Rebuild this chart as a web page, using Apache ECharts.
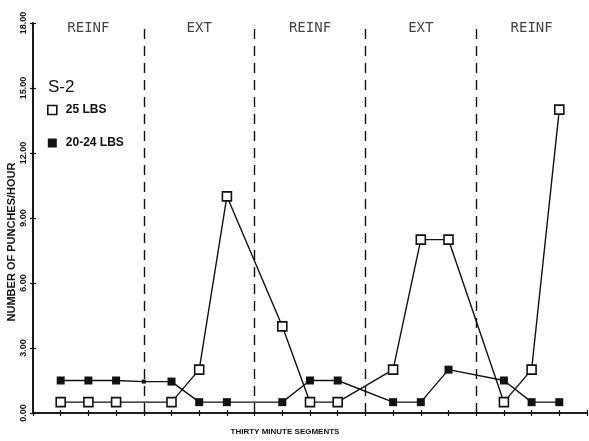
<!DOCTYPE html>
<html><head><meta charset="utf-8">
<script src="https://cdn.jsdelivr.net/npm/echarts@6/dist/echarts.min.js"></script>
<style>html,body{margin:0;padding:0;background:#fff}#c{width:589px;height:441px}</style>
</head><body><div id="c"></div>
<script>
// ---- data ----
const phaseNames = ['REINF', 'EXT', 'REINF', 'EXT', 'REINF'];
const phaseCenters = [2, 6, 10, 14, 18];
const phaseBoundaries = [4, 8, 12, 16];
const yTickValues = [0, 3, 6, 9, 12, 15, 18];
const seriesNames = ['25 LBS', '20-24 LBS'];
const lbs25Segments = [1, 2, 3, 5, 6, 7, 9, 10, 11, 13, 14, 15, 17, 18, 19];
const lbs25Values   = [0.5, 0.5, 0.5, 0.5, 2, 10, 4, 0.5, 0.5, 2, 8, 8, 0.5, 2, 14];
const lbs2024Segments = [1, 2, 3, 4, 5, 6, 7, 9, 10, 11, 13, 14, 15, 17, 18, 19];
const lbs2024Values   = [1.5, 1.5, 1.5, 1.45, 1.45, 0.5, 0.5, 0.5, 1.5, 1.5, 0.5, 0.5, 2, 1.5, 0.5, 0.5];
const xAxisTitle = 'THIRTY MINUTE SEGMENTS';
const yAxisTitle = 'NUMBER OF PUNCHES/HOUR';
const subjectLabel = 'S-2';

const INK = '#111';
const chart = echarts.init(document.getElementById('c'), null, {renderer: 'canvas'});
const gridPos = {left: 33, right: 2, top: 23, bottom: 28, containLabel: false, outerBoundsMode: 'none'};

function xAx(gridIndex, inside, extra) {
  return Object.assign({
    type: 'value', gridIndex, min: 0, max: 20, interval: 1,
    axisLine: {show: true, lineStyle: {color: INK, width: 1.6}},
    axisTick: {show: true, inside, length: 3, lineStyle: {color: INK, width: 1.2}},
    axisLabel: {show: false}, splitLine: {show: false}
  }, extra || {});
}
function yAx(gridIndex, inside, extra) {
  return Object.assign({
    type: 'value', gridIndex, min: 0, max: 18, interval: 3,
    axisLine: {show: true, lineStyle: {color: INK, width: 1.6}},
    axisTick: {show: true, inside, length: 3, lineStyle: {color: INK, width: 1.2}},
    axisLabel: {show: false}, splitLine: {show: false}
  }, extra || {});
}

const hollowSquare = {color: '#fff', borderColor: INK, borderWidth: 1.6};

chart.setOption({
  backgroundColor: '#fff',
  animation: false,
  title: {
    text: subjectLabel, left: 43, top: 74,
    textStyle: {fontFamily: 'Liberation Sans', fontSize: 17, fontWeight: 'normal', color: INK}
  },
  legend: {
    orient: 'vertical', left: 42, top: 99, itemWidth: 9, itemHeight: 9, itemGap: 21,
    textStyle: {fontFamily: 'Liberation Sans', fontSize: 12, fontWeight: 'bold', color: INK, padding: [0, 0, 0, 4]},
    data: [
      {name: seriesNames[0], icon: 'rect', itemStyle: hollowSquare},
      {name: seriesNames[1], icon: 'rect', itemStyle: {color: INK}}
    ]
  },
  grid: [Object.assign({}, gridPos), Object.assign({}, gridPos)],
  xAxis: [
    xAx(0, false, {
      name: xAxisTitle, nameLocation: 'middle', nameGap: 15, nameMoveOverlap: false,
      nameTextStyle: {fontFamily: 'Liberation Sans', fontSize: 8, fontWeight: 'bold', color: INK, padding: [0, 50, 0, 0]}
    }),
    xAx(1, true)
  ],
  yAxis: [
    yAx(0, false, {
      axisLabel: {show: true, rotate: 90, margin: 5, fontFamily: 'Liberation Sans', fontSize: 9, fontWeight: 'bold', color: INK,
        formatter: v => v.toFixed(2)},
      name: yAxisTitle, nameLocation: 'middle', nameGap: 16, nameRotate: 90, nameMoveOverlap: false,
      nameTextStyle: {fontFamily: 'Liberation Sans', fontSize: 11, fontWeight: 'bold', color: INK, padding: [0, 48, 0, 0]}
    }),
    yAx(1, true)
  ],
  series: [
    {
      name: seriesNames[0], type: 'line', xAxisIndex: 0, yAxisIndex: 0,
      data: lbs25Segments.map((s, i) => [s, lbs25Values[i]]),
      symbol: 'rect', symbolSize: 9,
      itemStyle: hollowSquare,
      lineStyle: {color: INK, width: 1.4}, z: 3,
      markLine: {
        silent: true, symbol: 'none',
        lineStyle: {color: INK, width: 1.4, type: [10, 7]},
        label: {show: false},
        data: phaseBoundaries.map(b => [{coord: [b, 0]}, {coord: [b, 18]}])
      }
    },
    {
      name: seriesNames[1], type: 'line', xAxisIndex: 0, yAxisIndex: 0,
      data: lbs2024Segments.map((s, i) => s === 4 ? {value: [s, lbs2024Values[i]], symbolSize: 4} : [s, lbs2024Values[i]]),
      symbol: 'rect', symbolSize: 8,
      itemStyle: {color: INK},
      lineStyle: {color: INK, width: 1.4}, z: 4
    },
    {
      name: 'phases', type: 'scatter', xAxisIndex: 0, yAxisIndex: 0,
      symbolSize: 0, silent: true,
      data: phaseCenters.map((c, i) => ({value: [c, 17.77], name: phaseNames[i]})),
      label: {show: true, position: 'inside', formatter: p => p.name,
        fontFamily: 'DejaVu Sans Mono', fontSize: 14, color: INK}
    }
  ]
});
</script></body></html>
